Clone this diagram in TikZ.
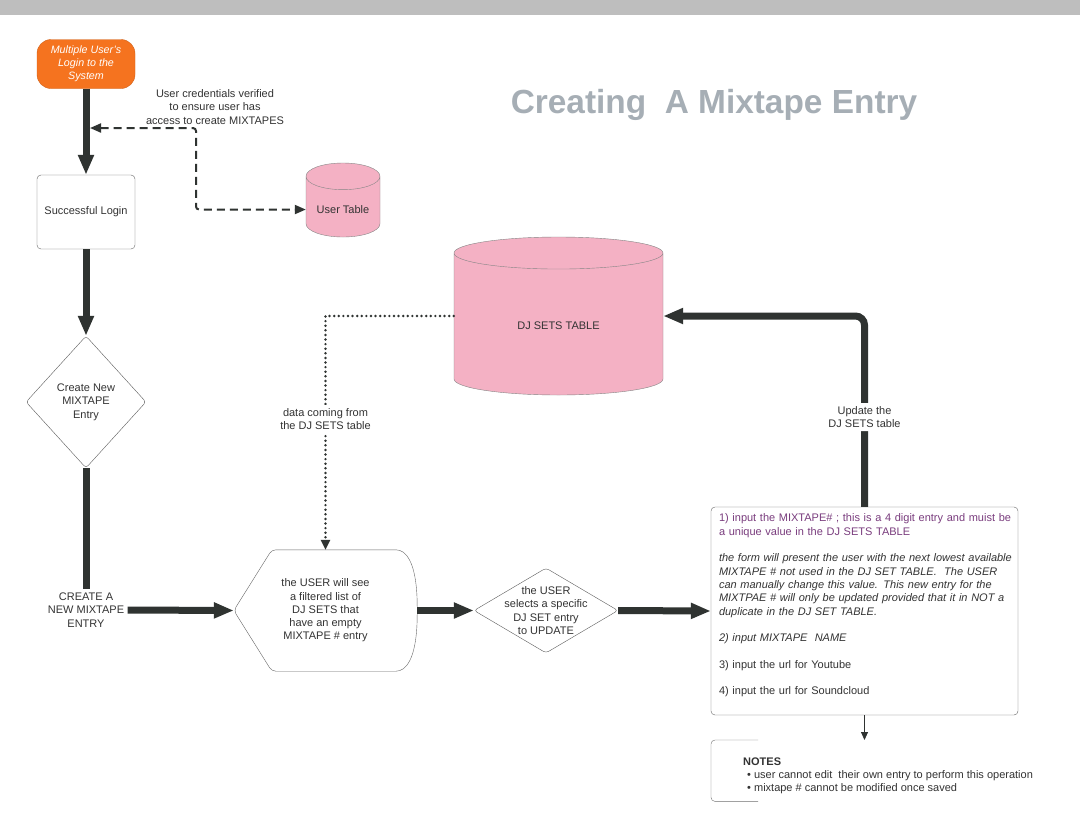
\documentclass[tikz,border=0pt]{standalone}
\usepackage{fontspec}
\setmainfont{Liberation Sans}
\usepackage{xcolor}
\usepackage{tikz}
\usetikzlibrary{shapes,arrows.meta,positioning,calc}

\definecolor{ink}{HTML}{333333}
\definecolor{linedark}{HTML}{2F3331}
\definecolor{tablepink}{HTML}{F4B1C4}
\definecolor{startorange}{HTML}{F5731F}
\definecolor{titlegrey}{HTML}{A6AEB5}
\definecolor{notepurple}{HTML}{7A3D7E}
\definecolor{topbar}{HTML}{BEBEBE}

\begin{document}
\begin{tikzpicture}[
    x=1pt, y=-1pt,
    every node/.style={text=ink, font=\fontsize{11}{13.3}\selectfont},
    startbox/.style={rectangle, rounded corners=14pt, fill=startorange, draw=startorange!85!black, minimum width=98pt, minimum height=49pt, align=center, text=white, font=\fontsize{10.7}{13}\selectfont\itshape},
    procbox/.style={rectangle, draw=ink!75, rounded corners=4pt, align=center},
    decision/.style={diamond, draw=ink!80, rounded corners=3pt, inner sep=0pt, align=center},
    dbtable/.style={cylinder, shape border rotate=90, draw=ink!60, fill=tablepink, align=center, anchor=shape center},
    flow/.style={line width=7pt, draw=linedark, -{Triangle[length=20pt,width=15pt]}},
    flowline/.style={line width=7pt, draw=linedark},
    lookup/.style={line width=2pt, draw=linedark, dash pattern=on 8pt off 5pt, rounded corners=3pt, {Triangle[length=11pt,width=9pt]}-{Triangle[length=11pt,width=9pt]}},
    feed/.style={line width=2.7pt, draw=linedark, dash pattern=on 0pt off 4.6pt, line cap=round, -{Triangle[length=10pt,width=9pt]}},
    thinarrow/.style={line width=0.8pt, draw=linedark, -{Triangle[length=8pt,width=7pt]}}
]
\useasboundingbox (0,0) rectangle (1080,839);
\fill[white] (0,0) rectangle (1080,839);
\fill[topbar] (0,0) rectangle (1080,15);

% title
\node[font=\fontsize{33.4}{40}\selectfont\bfseries, text=titlegrey] (title) at (714,105) {Creating\ \ A Mixtape Entry};

% left column
\node[startbox] (start) at (86,64) {Multiple User's\\Login to the\\System};
\node[procbox, minimum width=98pt, minimum height=74pt] (login) at (86,212) {Successful Login};
\node[decision, minimum width=120pt, minimum height=132pt] (newmix) at (86,402) {Create New\\MIXTAPE\\Entry};
\node[align=center] (createlbl) at (86,610) {CREATE A\\NEW MIXTAPE\\ENTRY};

% tables
\node[dbtable, minimum width=74pt, minimum height=74pt, aspect=0.45] (usertable) at (343,200) {User Table};
\node[dbtable, minimum width=209pt, minimum height=158pt, aspect=0.36] (djsets) at (558.5,316) {DJ SETS TABLE};

% bottom row
\node[minimum width=183pt, minimum height=121pt, align=center] (show) at (325.5,610.5) {the USER will see\\a filtered list of\\DJ SETS that\\have an empty\\MIXTAPE \# entry};
\draw[ink!75, rounded corners=4pt] (show.west) -- ($(show.north west)+(38,0)$) -- ($(show.north east)+(-17,0)$)
    .. controls ($(show.north east)+(-4,10)$) and ($(show.east)+(0,-30)$) .. (show.east)
    .. controls ($(show.east)+(0,30)$) and ($(show.south east)+(-4,-10)$) .. ($(show.south east)+(-17,0)$)
    -- ($(show.south west)+(38,0)$) -- cycle;
\node[decision, minimum width=144pt, minimum height=85pt, label={[align=center]center:{the USER\\selects a specific\\DJ SET entry\\to UPDATE}}] (pick) at (546,610.5) {};
\node[procbox, minimum width=307pt, minimum height=208pt] (form) at (864.5,611) {};
\node[anchor=north west, align=left, text width=300pt, inner sep=0pt] (formtext) at ($(form.north west)+(8,7)$) {%
{\color{notepurple}1) input the MIXTAPE\# ; this is a 4 digit entry and muist be\\a unique value in the DJ SETS TABLE}\\[13.3pt]
{\itshape the form will present the user with the next lowest available\\MIXTAPE \# not used in the DJ SET TABLE.\ \ The USER\\can manually change this value. This new entry for the\\MIXTPAE \# will only be updated provided that it in NOT a\\duplicate in the DJ SET TABLE.}\\[13.3pt]
{\itshape 2) input MIXTAPE\ \ NAME}\\[13.3pt]
3) input the url for Youtube\\[13.3pt]
4) input the url for Soundcloud};
\node[anchor=north west, align=left, minimum height=61pt, inner xsep=32pt] (notes) at (711,740) {\rule{0pt}{18pt}\textbf{NOTES}\\\hspace*{4pt}\textbullet\ user cannot edit\ \ their own entry to perform this operation\\\hspace*{4pt}\textbullet\ mixtape \# cannot be modified once saved};
\draw[ink!70, rounded corners=4pt] ($(notes.north west)+(47,0)$) -- (notes.north west) -- (notes.south west) -- ($(notes.south west)+(47,0)$);

% connectors
\coordinate (chk) at (90,128);
\node[align=center] (chknote) at (215,107) {User credentials verified\\to ensure user has\\access to create MIXTAPES};
\draw[flow] (start) -- (login);
\draw[lookup] (chk) -- ++(106,0) |- (usertable.west);
\draw[flow] (login) -- (newmix);
\draw[flowline] (newmix.south) -- (createlbl.north);
\draw[flow] (createlbl.east) -- (show.west);
\draw[flow] (show.east) -- (pick.west);
\draw[flow] (pick.east) -- (form.west);
\draw[feed] (djsets.west |- djsets.shape center) -| node[pos=0.72, fill=white, align=center] (feedlbl) {data coming from\\the DJ SETS table} (show.north);
\draw[flow, rounded corners=9pt] (form.north) |- node[pos=0.235, fill=white, align=center] (updlbl) {Update the\\DJ SETS table} (djsets.east |- djsets.shape center);
\draw[thinarrow] (form.south) -- (form.south |- notes.north);

\end{tikzpicture}
\end{document}
